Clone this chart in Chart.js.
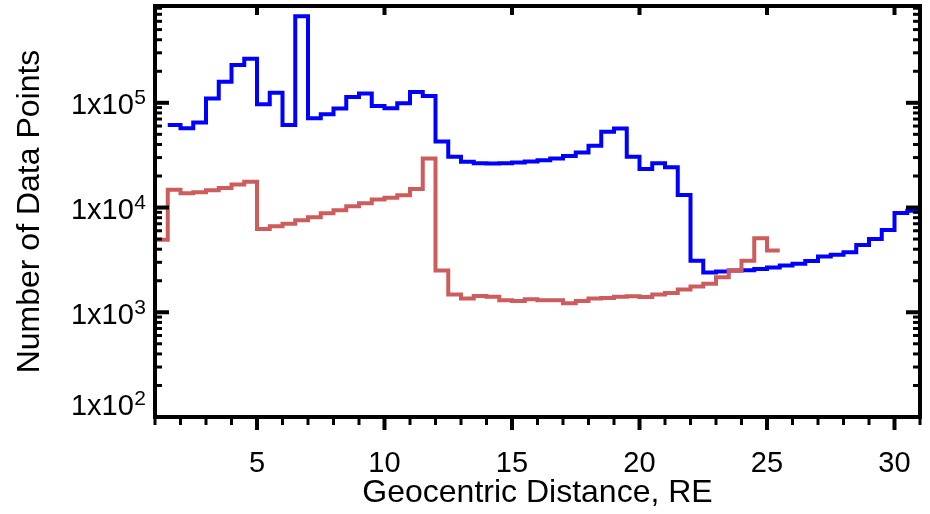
<!DOCTYPE html>
<html><head><meta charset="utf-8">
<script src="https://cdn.jsdelivr.net/npm/chart.js@4"></script>
<style>html,body{margin:0;padding:0;background:#fff}#wrap{width:930px;height:514px}</style>
</head><body><div id="wrap"><canvas id="c" width="930" height="514"></canvas></div>
<script>
// Bin left edges (RE), bin width 0.5
const binStart = [1.0,1.5,2.0,2.5,3.0,3.5,4.0,4.5,5.0,5.5,6.0,6.5,7.0,7.5,8.0,8.5,9.0,9.5,10.0,10.5,
  11.0,11.5,12.0,12.5,13.0,13.5,14.0,14.5,15.0,15.5,16.0,16.5,17.0,17.5,18.0,18.5,19.0,19.5,20.0,20.5,
  21.0,21.5,22.0,22.5,23.0,23.5,24.0,24.5,25.0,25.5,26.0,26.5,27.0,27.5,28.0,28.5,29.0,29.5,30.0,30.5];
const binWidth = 0.5;
const blueCounts = [null,61500,57100,64800,110000,159000,229000,264000,96800,125000,61500,671000,71100,77600,88100,113600,123000,93200,88700,98900,
  127000,116000,42700,30500,27300,26500,26400,26500,26900,27500,28300,29400,31100,33500,38800,52800,56800,30500,23300,26500,
  24200,13200,3110,2400,2450,2500,2520,2590,2670,2790,2900,3090,3400,3550,3740,4390,5010,6100,8870,9340];
const redCounts = [4930,14800,13700,14000,14600,15400,16600,17600,6240,6620,7010,7550,8070,8810,9400,10300,11000,11900,12400,13100,
  15000,29400,2500,1480,1350,1430,1410,1300,1280,1330,1300,1300,1220,1280,1350,1370,1410,1420,1400,1480,
  1530,1650,1760,1870,2160,2500,3110,5090,3880,null,null,null,null,null,null,null,null,null,null,null];
const xTickLabels = [5,10,15,20,25,30];
const yTickValues = [1e2,1e3,1e4,1e5];
const yTickExponents = ['2','3','4','5'];
const xTitle = 'Geocentric Distance, RE';
const yTitle = 'Number of Data Points';

const FONT = "'Liberation Sans', Arial, Helvetica, sans-serif";

function stepPoints(counts){
  const pts = [];
  let last = null;
  for (let i=0;i<binStart.length;i++){
    if (counts[i]==null) continue;
    pts.push({x:binStart[i], y:counts[i]});
    last = i;
  }
  if (last!==null) pts.push({x:binStart[last]+binWidth, y:counts[last]});
  return pts;
}

const framePlugin = {
  id:'frame',
  afterDatasetsDraw(chart){
    const {ctx, chartArea:a, scales:{x,y}} = chart;
    ctx.save();
    ctx.strokeStyle='#000'; ctx.lineCap='butt';
    ctx.lineWidth=4;
    ctx.strokeRect(a.left, a.top, a.right-a.left, a.bottom-a.top);
    for (let v=Math.ceil(x.min); v<=x.max; v++){
      const px=x.getPixelForValue(v);
      const major = xTickLabels.includes(v);
      ctx.lineWidth = major?4:3;
      ctx.beginPath(); ctx.moveTo(px,a.bottom); ctx.lineTo(px,a.bottom+(major?13:8)); ctx.stroke();
      if (major){ ctx.beginPath(); ctx.moveTo(px,a.top); ctx.lineTo(px,a.top+9); ctx.stroke(); }
    }
    for (const d of yTickValues){
      for (let k=1;k<=9;k++){
        const v=k*d;
        if (v<y.min-1e-9 || v>y.max) continue;
        const py=y.getPixelForValue(v);
        const len = k===1?14:7;
        ctx.lineWidth = k===1?4:3;
        ctx.beginPath(); ctx.moveTo(a.left,py); ctx.lineTo(a.left+len,py); ctx.stroke();
        ctx.beginPath(); ctx.moveTo(a.right,py); ctx.lineTo(a.right-len,py); ctx.stroke();
      }
    }
    // y tick labels with superscript exponent
    ctx.fillStyle='#000';
    ctx.textBaseline='alphabetic';
    yTickValues.forEach((v,i)=>{
      const py=y.getPixelForValue(v);
      const base = Math.min(py+11.5, a.bottom-2);
      ctx.font = '21px '+FONT;
      const sw = ctx.measureText(yTickExponents[i]).width;
      ctx.textAlign='left';
      ctx.fillText(yTickExponents[i], 146-sw, base-10);
      ctx.font = '29px '+FONT;
      ctx.textAlign='right';
      ctx.fillText('1x10', 146-sw-0.5, base);
    });
    ctx.restore();
  }
};

new Chart(document.getElementById('c'), {
  type:'line',
  data:{datasets:[
    {label:'red', data:stepPoints(redCounts), borderColor:'#CD5C5C', borderWidth:4, stepped:'before', pointRadius:0, fill:false, borderJoinStyle:'miter', borderCapStyle:'butt'},
    {label:'blue', data:stepPoints(blueCounts), borderColor:'#0000FF', borderWidth:4, stepped:'before', pointRadius:0, fill:false, borderJoinStyle:'miter', borderCapStyle:'butt'}
  ]},
  options:{
    responsive:false, animation:false, devicePixelRatio:1,
    layout:{padding:{top:6,right:10,left:0,bottom:0}},
    plugins:{legend:{display:false}, tooltip:{enabled:false}},
    scales:{
      x:{type:'linear', min:1, max:31,
        afterFit(s){ s.height=97; s.paddingLeft=0; s.paddingRight=0; },
        grid:{display:false, drawTicks:false}, border:{display:false},
        ticks:{stepSize:1, autoSkip:false, maxRotation:0, minRotation:0, padding:30, color:'#000',
          font:{family:FONT, size:29},
          callback:(v)=> xTickLabels.includes(v) ? String(v) : ''},
        title:{display:true, text:xTitle, color:'#000', font:{family:FONT, size:32, lineHeight:1.2}, padding:{top:0,bottom:2}}
      },
      y:{type:'logarithmic', min:100, max:840000,
        afterFit(s){ s.width=155; s.paddingTop=0; s.paddingBottom=0; },
        grid:{display:false, drawTicks:false}, border:{display:false},
        ticks:{display:false},
        title:{display:true, text:yTitle, color:'#000', font:{family:FONT, size:32, lineHeight:1.2}, padding:{top:11,bottom:0}}
      }
    }
  },
  plugins:[framePlugin]
});
</script>
</body></html>
